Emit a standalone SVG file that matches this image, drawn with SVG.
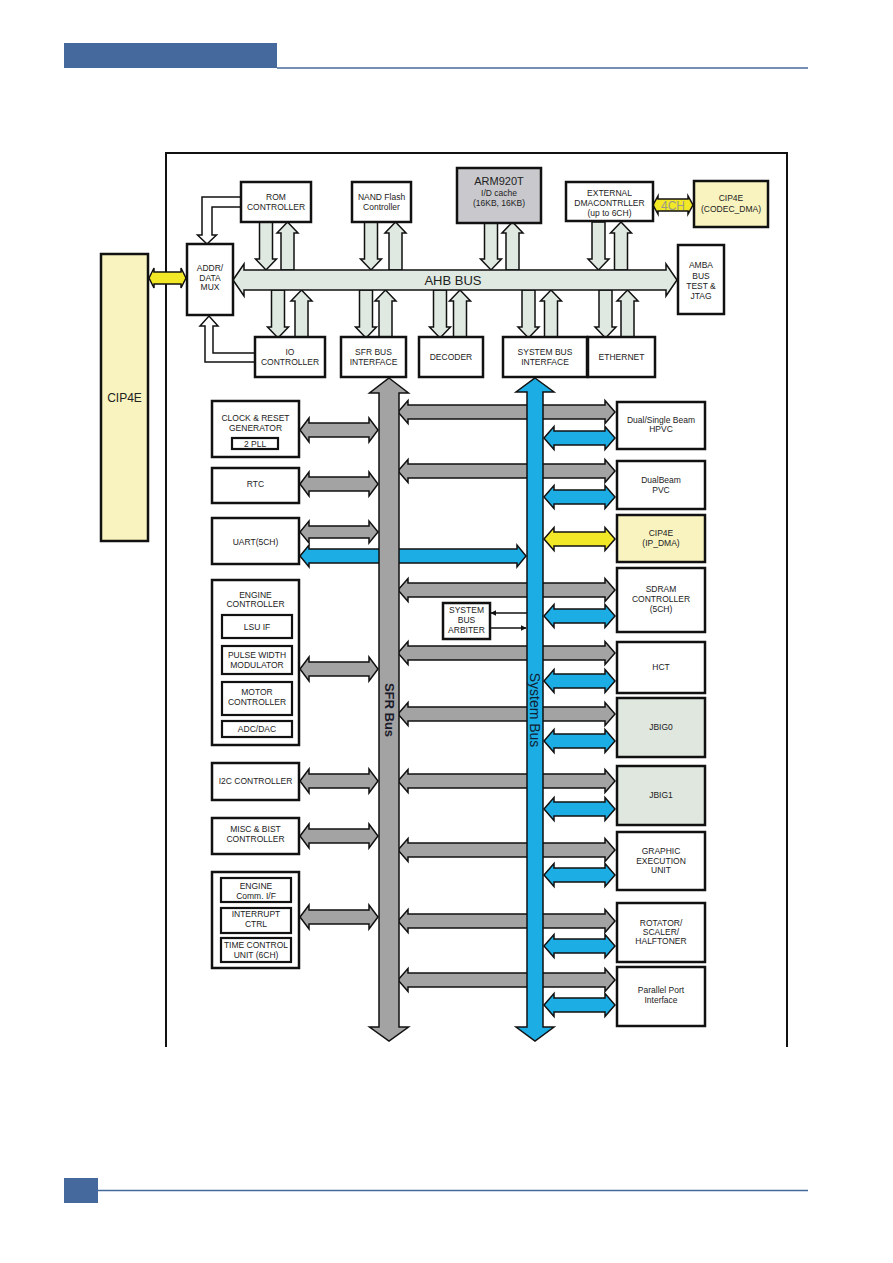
<svg xmlns="http://www.w3.org/2000/svg" width="893" height="1263" viewBox="0 0 893 1263">
<style>
text{font-family:"Liberation Sans",Arial,sans-serif;font-size:8.5px;fill:#222;text-anchor:middle}
.box{fill:#fff;stroke:#111;stroke-width:2.5}
.ibox{fill:#fff;stroke:#111;stroke-width:2.2}
.cip{fill:#f8f3bf;stroke:#111;stroke-width:2.5}
.jbig{fill:#dfe7df;stroke:#111;stroke-width:2.5}
.arm{fill:#c9c9cd;stroke:#111;stroke-width:2.5}
.gray{fill:#a3a3a3;stroke:#111;stroke-width:1.5}
.blue{fill:#1cade4;stroke:#111;stroke-width:1.5}
.yel{fill:#f3e827;stroke:#111;stroke-width:1.5}
.pale{fill:#dfe9e1;stroke:#111;stroke-width:1.5}
.hollow{fill:#fff;stroke:#111;stroke-width:1.5}
.thin{fill:none;stroke:#111;stroke-width:1.5}
</style>
<defs>
<path id="gL" d="M300,0 L309,-12 L309,-7 L369,-7 L369,-12 L378,0 L369,12 L369,7 L309,7 L309,12 Z"/>
<path id="gR" d="M398,0 L408,-11.5 L408,-7 L605,-7 L605,-11.5 L615,0 L605,11.5 L605,7 L408,7 L408,11.5 Z"/>
<path id="bR" d="M544,0 L554,-11.5 L554,-7 L605,-7 L605,-11.5 L615,0 L605,11.5 L605,7 L554,7 L554,11.5 Z"/>
<path id="dn" d="M-6.5,0 L6.5,0 L6.5,37 L10.5,37 L0,48 L-10.5,37 L-6.5,37 Z"/>
<path id="up" d="M0,0 L10.5,11 L6.5,11 L6.5,48 L-6.5,48 L-6.5,11 L-10.5,11 Z"/>
<marker id="ah" viewBox="0 0 10 10" refX="9" refY="5" markerWidth="6" markerHeight="6" orient="auto-start-reverse" markerUnits="userSpaceOnUse">
<path d="M0,0 L10,5 L0,10 Z" fill="#111"/>
</marker>
</defs>
<rect width="893" height="1263" fill="#fff"/>
<!-- page header/footer -->
<g id="page-frame">
<rect x="64" y="43" width="213" height="25" fill="#46699d"/>
<line x1="277" y1="68" x2="808" y2="68" stroke="#46699d" stroke-width="1.5"/>
<rect x="64" y="1178" width="34" height="25" fill="#46699d"/>
<line x1="98" y1="1190.5" x2="808" y2="1190.5" stroke="#46699d" stroke-width="1.5"/>
<path d="M166,1047 L166,153 L787,153 L787,1047" fill="none" stroke="#111" stroke-width="2"/>
</g>

<g id="connectors">
<!-- AHB small arrows top row -->
<use href="#dn" class="pale" transform="translate(266,222)"/>
<use href="#up" class="pale" transform="translate(287.5,222)"/>
<use href="#dn" class="pale" transform="translate(371,222)"/>
<use href="#up" class="pale" transform="translate(395.5,222)"/>
<use href="#dn" class="pale" transform="translate(491,222)"/>
<use href="#up" class="pale" transform="translate(512.5,222)"/>
<use href="#dn" class="pale" transform="translate(598.5,222)"/>
<use href="#up" class="pale" transform="translate(621,222)"/>
<!-- AHB small arrows bottom row -->
<use href="#dn" class="pale" transform="translate(278,290)"/>
<use href="#up" class="pale" transform="translate(301.5,290)"/>
<use href="#dn" class="pale" transform="translate(366,290)"/>
<use href="#up" class="pale" transform="translate(385.5,290)"/>
<use href="#dn" class="pale" transform="translate(440,290)"/>
<use href="#up" class="pale" transform="translate(460,290)"/>
<use href="#dn" class="pale" transform="translate(528.5,290)"/>
<use href="#up" class="pale" transform="translate(551,290)"/>
<use href="#dn" class="pale" transform="translate(605.5,290)"/>
<use href="#up" class="pale" transform="translate(627.5,290)"/>
<!-- hollow arrows to ADDR/DATA MUX -->
<path class="hollow" d="M241,197 L202,197 L202,235 L197.5,235 L207,244 L216.5,235 L212,235 L212,207 L241,207 Z"/>
<path class="hollow" d="M255,362 L205,362 L205,326 L200,326 L209,316 L218,326 L213,326 L213,353 L255,353 Z"/>
<!-- yellow links -->
<path class="yel" d="M149,278 L154,268 L154,272 L181,272 L181,268 L186,278 L181,288 L181,284 L154,284 L154,288 Z"/>
<path class="yel" d="M653,205 L658,196 L658,199 L688,199 L688,196 L693,205 L688,214 L688,211 L658,211 L658,214 Z"/>
<text x="673" y="209.5" style="font-size:12px;fill:#9a9a86">4CH</text>
<!-- left gray arrows to SFR bus -->
<use href="#gL" class="gray" y="430"/>
<use href="#gL" class="gray" y="484"/>
<path class="gray" d="M300,532 L309,521 L309,526 L369,526 L369,521 L378,532 L369,543 L369,538 L309,538 L309,543 Z"/>
<use href="#gL" class="gray" y="669"/>
<use href="#gL" class="gray" y="781"/>
<use href="#gL" class="gray" y="836"/>
<use href="#gL" class="gray" y="917"/>
<!-- UART blue -->
<path class="blue" d="M300,556 L309,545 L309,549 L517,549 L517,545 L526,556 L517,567 L517,563 L309,563 L309,567 Z"/>
<!-- right gray arrows -->
<use href="#gR" class="gray" y="412"/>
<use href="#gR" class="gray" y="471"/>
<use href="#gR" class="gray" y="590"/>
<use href="#gR" class="gray" y="653"/>
<use href="#gR" class="gray" y="714"/>
<use href="#gR" class="gray" y="781"/>
<use href="#gR" class="gray" y="850"/>
<use href="#gR" class="gray" y="921"/>
<use href="#gR" class="gray" y="980"/>
<!-- right blue arrows -->
<use href="#bR" class="blue" y="438"/>
<use href="#bR" class="blue" y="497"/>
<use href="#bR" class="yel" y="539"/>
<use href="#bR" class="blue" y="616"/>
<use href="#bR" class="blue" y="681"/>
<use href="#bR" class="blue" y="741"/>
<use href="#bR" class="blue" y="809"/>
<use href="#bR" class="blue" y="875"/>
<use href="#bR" class="blue" y="946"/>
<use href="#bR" class="blue" y="1005"/>
<!-- arbiter -->
<line class="thin" x1="527" y1="613" x2="491" y2="613" marker-end="url(#ah)"/>
<line class="thin" x1="491" y1="628" x2="526" y2="628" marker-end="url(#ah)"/>
</g>

<g id="ahb-bus">
<path class="pale" d="M233,280 L244,264 L244,270 L666,270 L666,264 L677,280 L666,296 L666,290 L244,290 L244,296 Z"/>
<text x="453" y="284.5" style="font-size:13px">AHB BUS</text>
</g>
<g id="sfr-bus">
<path class="gray" d="M389,378 L408.5,393 L399,393 L399,1027 L408.5,1027 L389,1041 L369.5,1027 L379,1027 L379,393 L369.5,393 Z"/>
<text transform="translate(389,710) rotate(90)" y="4.5" style="font-size:13px;font-weight:bold;fill:#1a1a2a">SFR Bus</text>
</g>
<g id="system-bus">
<path class="blue" d="M535,378 L554,392 L543,392 L543,1027 L554,1027 L535,1041 L516,1027 L527,1027 L527,392 L516,392 Z"/>
<text transform="translate(535,710) rotate(90)" y="5" style="font-size:14px;fill:#0f2233">System Bus</text>
</g>

<g id="cip4e-left"><rect class="cip" x="101" y="254" width="47" height="287"/><text x="124.5" y="402" style="font-size:12px">CIP4E</text></g>
<g id="addr-mux"><rect class="box" x="187" y="244" width="46" height="71"/><text x="210" y="271">ADDR/</text><text x="210" y="281">DATA</text><text x="210" y="290">MUX</text></g>
<g id="rom"><rect class="box" x="241" y="182" width="70" height="40"/><text x="276" y="200">ROM</text><text x="276" y="210">CONTROLLER</text></g>
<g id="nand"><rect class="box" x="352" y="182" width="59" height="40"/><text x="381.5" y="200">NAND Flash</text><text x="381.5" y="210">Controller</text></g>
<g id="arm"><rect class="arm" x="457" y="168" width="84" height="55"/><text x="499" y="185" style="font-size:11px">ARM920T</text><text x="499" y="196">I/D cache</text><text x="499" y="206">(16KB, 16KB)</text></g>
<g id="ext-dma"><rect class="box" x="566" y="182" width="87" height="39"/><text x="609.5" y="196">EXTERNAL</text><text x="609.5" y="206">DMACONTRLLER</text><text x="609.5" y="216">(up to 6CH)</text></g>
<g id="cip4e-codec"><rect class="cip" x="694" y="181" width="74" height="46"/><text x="731" y="201">CIP4E</text><text x="731" y="212">(CODEC_DMA)</text></g>
<g id="amba"><rect class="box" x="678" y="245" width="46" height="69"/><text x="701" y="268">AMBA</text><text x="701" y="279">BUS</text><text x="701" y="289">TEST &amp;</text><text x="701" y="299">JTAG</text></g>
<g id="io"><rect class="box" x="255" y="337" width="70" height="40"/><text x="290" y="355">IO</text><text x="290" y="365">CONTROLLER</text></g>
<g id="sfr-if"><rect class="box" x="341" y="337" width="65" height="40"/><text x="373.5" y="355">SFR BUS</text><text x="373.5" y="365">INTERFACE</text></g>
<g id="decoder"><rect class="box" x="419" y="337" width="64" height="40"/><text x="451" y="360">DECODER</text></g>
<g id="sys-if"><rect class="box" x="503" y="337" width="84" height="40"/><text x="545" y="355">SYSTEM BUS</text><text x="545" y="365">INTERFACE</text></g>
<g id="ethernet"><rect class="box" x="588" y="337" width="67" height="40"/><text x="621.5" y="360">ETHERNET</text></g>

<g id="clock"><rect class="box" x="212" y="401" width="87" height="56"/><text x="255.5" y="421">CLOCK &amp; RESET</text><text x="255.5" y="431">GENERATOR</text><rect class="ibox" x="232" y="438" width="46" height="11"/><text x="255" y="446.5">2 PLL</text></g>
<g id="rtc"><rect class="box" x="212" y="468" width="87" height="35"/><text x="255.5" y="487">RTC</text></g>
<g id="uart"><rect class="box" x="212" y="518" width="87" height="46"/><text x="255.5" y="545">UART(5CH)</text></g>
<g id="engine"><rect class="box" x="212" y="580" width="87" height="165"/><text x="255.5" y="598">ENGINE</text><text x="255.5" y="607">CONTROLLER</text>
<rect class="ibox" x="222" y="615" width="70" height="23"/><text x="257" y="629.5">LSU IF</text>
<rect class="ibox" x="222" y="646" width="70" height="28"/><text x="257" y="658">PULSE WIDTH</text><text x="257" y="667.5">MODULATOR</text>
<rect class="ibox" x="222" y="682" width="70" height="33"/><text x="257" y="695">MOTOR</text><text x="257" y="705">CONTROLLER</text>
<rect class="ibox" x="222" y="721" width="70" height="16"/><text x="257" y="732">ADC/DAC</text></g>
<g id="i2c"><rect class="box" x="212" y="763" width="87" height="37"/><text x="255.5" y="784">I2C CONTROLLER</text></g>
<g id="misc"><rect class="box" x="212" y="818" width="87" height="36"/><text x="255.5" y="832">MISC &amp; BIST</text><text x="255.5" y="842">CONTROLLER</text></g>
<g id="engine-comm"><rect class="box" x="212" y="872" width="87" height="96"/>
<rect class="ibox" x="221" y="878" width="70" height="24"/><text x="256" y="889">ENGINE</text><text x="256" y="899">Comm. I/F</text>
<rect class="ibox" x="221" y="908" width="70" height="25"/><text x="256" y="917">INTERRUPT</text><text x="256" y="927">CTRL</text>
<rect class="ibox" x="221" y="938" width="70" height="24"/><text x="256" y="948">TIME CONTROL</text><text x="256" y="958">UNIT (6CH)</text></g>
<g id="arbiter"><rect class="box" x="443" y="603" width="47" height="36"/><text x="466.5" y="613">SYSTEM</text><text x="466.5" y="623">BUS</text><text x="466.5" y="633">ARBITER</text></g>

<g id="hpvc"><rect class="box" x="617" y="402" width="88" height="47"/><text x="661" y="423">Dual/Single Beam</text><text x="661" y="432">HPVC</text></g>
<g id="pvc"><rect class="box" x="617" y="461" width="88" height="48"/><text x="661" y="483">DualBeam</text><text x="661" y="493">PVC</text></g>
<g id="cip4e-ip"><rect class="cip" x="617" y="515" width="88" height="47"/><text x="661" y="536">CIP4E</text><text x="661" y="546">(IP_DMA)</text></g>
<g id="sdram"><rect class="box" x="617" y="568" width="88" height="64"/><text x="661" y="592">SDRAM</text><text x="661" y="602">CONTROLLER</text><text x="661" y="612">(5CH)</text></g>
<g id="hct"><rect class="box" x="617" y="642" width="88" height="51"/><text x="661" y="670">HCT</text></g>
<g id="jbig0"><rect class="jbig" x="617" y="698" width="88" height="59"/><text x="661" y="730">JBIG0</text></g>
<g id="jbig1"><rect class="jbig" x="617" y="766" width="88" height="59"/><text x="661" y="798">JBIG1</text></g>
<g id="geu"><rect class="box" x="617" y="832" width="88" height="58"/><text x="661" y="854">GRAPHIC</text><text x="661" y="863.5">EXECUTION</text><text x="661" y="873">UNIT</text></g>
<g id="rotator"><rect class="box" x="617" y="903" width="88" height="59"/><text x="661" y="926">ROTATOR/</text><text x="661" y="935">SCALER/</text><text x="661" y="944">HALFTONER</text></g>
<g id="parallel"><rect class="box" x="617" y="967" width="88" height="59"/><text x="661" y="993">Parallel Port</text><text x="661" y="1003">Interface</text></g>
</svg>
